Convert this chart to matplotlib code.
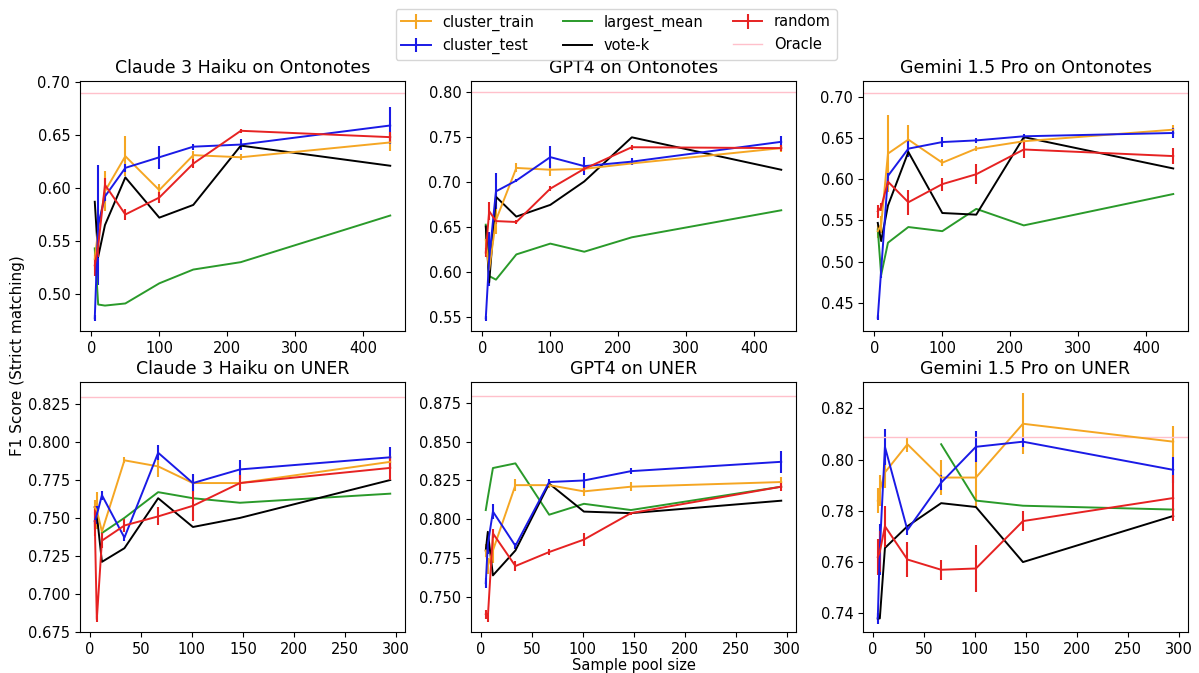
import numpy as np
import matplotlib
matplotlib.use("Agg")
import matplotlib.pyplot as plt
from matplotlib.ticker import MultipleLocator

nan = np.nan

# x positions (sample pool size)
x_onto = [5, 10, 20, 50, 100, 150, 220, 440]
x_uner = [5, 7, 12, 34, 67, 101, 147, 294]

titles = ["Claude 3 Haiku on Ontonotes", "GPT4 on Ontonotes", "Gemini 1.5 Pro on Ontonotes",
          "Claude 3 Haiku on UNER", "GPT4 on UNER", "Gemini 1.5 Pro on UNER"]
oracle = [0.690, 0.800, 0.705, 0.830, 0.879, 0.809]

# ---- Claude 3 Haiku on Ontonotes
haiku_onto_train = [0.533, 0.560, 0.597, 0.630, 0.598, 0.631, 0.629, 0.643]
haiku_onto_train_err = [0.010, 0.020, 0.019, 0.019, 0.006, 0.004, 0.003, 0.008]
haiku_onto_test = [0.477, 0.565, 0.592, 0.619, 0.629, 0.639, 0.641, 0.659]
haiku_onto_test_err = [0.003, 0.057, 0.004, 0.004, 0.011, 0.003, 0.005, 0.017]
haiku_onto_largest = [0.543, 0.490, 0.489, 0.491, 0.510, 0.523, 0.530, 0.574]
haiku_onto_votek = [0.587, 0.535, 0.565, 0.610, 0.572, 0.584, 0.640, 0.621]
haiku_onto_random = [0.527, 0.545, 0.603, 0.575, 0.591, 0.623, 0.654, 0.648]
haiku_onto_random_err = [0.010, 0.010, 0.006, 0.005, 0.005, 0.004, 0.002, 0.005]

# ---- GPT4 on Ontonotes
gpt4_onto_train = [0.636, 0.603, 0.658, 0.716, 0.714, 0.715, 0.721, 0.738]
gpt4_onto_train_err = [0.010, 0.010, 0.015, 0.005, 0.007, 0.003, 0.002, 0.004]
gpt4_onto_test = [0.549, 0.615, 0.690, 0.702, 0.728, 0.718, 0.723, 0.745]
gpt4_onto_test_err = [0.003, 0.030, 0.020, 0.002, 0.012, 0.010, 0.004, 0.007]
gpt4_onto_largest = [0.653, 0.596, 0.592, 0.620, 0.632, 0.623, 0.639, 0.669]
gpt4_onto_votek = [0.651, 0.589, 0.684, 0.662, 0.675, 0.701, 0.750, 0.714]
gpt4_onto_random = [0.622, 0.668, 0.657, 0.656, 0.693, 0.715, 0.739, 0.738]
gpt4_onto_random_err = [0.005, 0.010, 0.003, 0.002, 0.003, 0.002, 0.003, 0.003]

# ---- Gemini 1.5 Pro on Ontonotes
gemini_onto_train = [0.537, 0.545, 0.631, 0.648, 0.620, 0.637, 0.646, 0.660]
gemini_onto_train_err = [0.008, 0.010, 0.047, 0.018, 0.004, 0.003, 0.003, 0.006]
gemini_onto_test = [0.432, 0.490, 0.604, 0.637, 0.645, 0.647, 0.652, 0.656]
gemini_onto_test_err = [0.003, 0.010, 0.003, 0.010, 0.006, 0.003, 0.003, 0.006]
gemini_onto_largest = [0.539, 0.484, 0.523, 0.542, 0.537, 0.564, 0.544, 0.582]
gemini_onto_votek = [0.547, 0.525, 0.568, 0.633, 0.559, 0.557, 0.651, 0.613]
gemini_onto_random = [0.561, 0.566, 0.597, 0.572, 0.594, 0.606, 0.636, 0.628]
gemini_onto_random_err = [0.008, 0.005, 0.004, 0.015, 0.008, 0.012, 0.010, 0.010]

# ---- Claude 3 Haiku on UNER
haiku_uner_train = [0.757, 0.755, 0.741, 0.788, 0.784, 0.773, 0.773, 0.787]
haiku_uner_train_err = [0.005, 0.012, 0.002, 0.002, 0.007, 0.005, 0.002, 0.004]
haiku_uner_test = [0.748, 0.752, 0.765, 0.737, 0.793, 0.773, 0.782, 0.790]
haiku_uner_test_err = [0.006, 0.006, 0.003, 0.002, 0.005, 0.006, 0.006, 0.007]
haiku_uner_largest = [nan, nan, 0.740, 0.750, 0.767, 0.763, 0.760, 0.766]
haiku_uner_votek = [0.757, 0.752, 0.721, 0.730, 0.763, 0.744, 0.750, 0.775]
haiku_uner_random = [0.748, 0.683, 0.735, 0.745, 0.751, 0.758, 0.773, 0.783]
haiku_uner_random_err = [0.010, 0.002, 0.005, 0.004, 0.006, 0.010, 0.005, 0.008]

# ---- GPT4 on UNER
gpt4_uner_train = [0.780, 0.770, 0.780, 0.822, 0.822, 0.818, 0.821, 0.824]
gpt4_uner_train_err = [0.004, 0.005, 0.008, 0.004, 0.002, 0.003, 0.003, 0.003]
gpt4_uner_test = [0.759, 0.784, 0.805, 0.783, 0.824, 0.825, 0.831, 0.837]
gpt4_uner_test_err = [0.003, 0.006, 0.005, 0.002, 0.002, 0.005, 0.002, 0.007]
gpt4_uner_largest = [0.806, 0.814, 0.833, 0.836, 0.803, 0.810, 0.806, 0.821]
gpt4_uner_votek = [0.780, 0.792, 0.764, 0.780, 0.823, 0.805, 0.804, 0.812]
gpt4_uner_random = [0.739, 0.737, 0.791, 0.770, 0.779, 0.787, 0.804, 0.821]
gpt4_uner_random_err = [0.003, 0.003, 0.003, 0.003, 0.002, 0.004, 0.001, 0.003]

# ---- Gemini 1.5 Pro on UNER
gemini_uner_train = [0.784, 0.788, 0.795, 0.806, 0.793, 0.793, 0.814, 0.807]
gemini_uner_train_err = [0.005, 0.006, 0.006, 0.003, 0.007, 0.012, 0.012, 0.006]
gemini_uner_test = [0.738, 0.765, 0.805, 0.7725, 0.791, 0.805, 0.807, 0.796]
gemini_uner_test_err = [0.002, 0.010, 0.007, 0.002, 0.003, 0.006, 0.002, 0.005]
gemini_uner_largest = [nan, nan, nan, nan, 0.806, 0.784, 0.782, 0.7805]
gemini_uner_votek = [0.738, 0.738, 0.7655, 0.774, 0.783, 0.7815, 0.760, 0.778]
gemini_uner_random = [0.762, 0.764, 0.774, 0.761, 0.757, 0.7575, 0.776, 0.785]
gemini_uner_random_err = [0.007, 0.008, 0.008, 0.007, 0.004, 0.009, 0.004, 0.009]

panels = [
    (x_onto, haiku_onto_train, haiku_onto_train_err, haiku_onto_test, haiku_onto_test_err,
     haiku_onto_largest, haiku_onto_votek, haiku_onto_random, haiku_onto_random_err),
    (x_onto, gpt4_onto_train, gpt4_onto_train_err, gpt4_onto_test, gpt4_onto_test_err,
     gpt4_onto_largest, gpt4_onto_votek, gpt4_onto_random, gpt4_onto_random_err),
    (x_onto, gemini_onto_train, gemini_onto_train_err, gemini_onto_test, gemini_onto_test_err,
     gemini_onto_largest, gemini_onto_votek, gemini_onto_random, gemini_onto_random_err),
    (x_uner, haiku_uner_train, haiku_uner_train_err, haiku_uner_test, haiku_uner_test_err,
     haiku_uner_largest, haiku_uner_votek, haiku_uner_random, haiku_uner_random_err),
    (x_uner, gpt4_uner_train, gpt4_uner_train_err, gpt4_uner_test, gpt4_uner_test_err,
     gpt4_uner_largest, gpt4_uner_votek, gpt4_uner_random, gpt4_uner_random_err),
    (x_uner, gemini_uner_train, gemini_uner_train_err, gemini_uner_test, gemini_uner_test_err,
     gemini_uner_largest, gemini_uner_votek, gemini_uner_random, gemini_uner_random_err),
]

ylims = [(0.465, 0.701), (0.535, 0.8125), (0.416, 0.719),
         (0.6747, 0.8397), (0.7276, 0.8883), (0.7327, 0.8303)]
ysteps = [0.05, 0.05, 0.05, 0.025, 0.025, 0.02]

C_TRAIN = "#f5a623"
C_TEST = "#1a1ae6"
C_LARGEST = "#2a9a2a"
C_VOTEK = "black"
C_RANDOM = "#e62222"
C_ORACLE = "pink"

plt.rcParams["font.family"] = ["DejaVu Sans"]
fig = plt.figure(figsize=(11.99, 6.73), dpi=100)

W, H = 1199, 673
lefts = [80, 471, 863]
tops = [81, 382]
aw, ah = 325, 250

axes = []
legend_handles = None
for i, (x, tr, tre, te, tee, lg, vk, rd, rde) in enumerate(panels):
    r, c = divmod(i, 3)
    ax = fig.add_axes([lefts[c] / W, 1 - (tops[r] + ah) / H, aw / W, ah / H])
    axes.append(ax)
    lw = 1.4
    h_tr = ax.errorbar(x, tr, yerr=tre, color=C_TRAIN, lw=lw, elinewidth=1.5, label="cluster_train")
    h_te = ax.errorbar(x, te, yerr=tee, color=C_TEST, lw=lw, elinewidth=1.5, label="cluster_test")
    h_lg, = ax.plot(x, lg, color=C_LARGEST, lw=lw, label="largest_mean")
    h_vk, = ax.plot(x, vk, color=C_VOTEK, lw=lw, label="vote-k")
    h_rd = ax.errorbar(x, rd, yerr=rde, color=C_RANDOM, lw=lw, elinewidth=1.5, label="random")
    h_or = ax.axhline(oracle[i], color=C_ORACLE, lw=1.0, label="Oracle")
    if legend_handles is None:
        legend_handles = [h_tr, h_te, h_lg, h_vk, h_rd, h_or]
    ax.set_title(titles[i], fontsize=12.5)
    ax.set_ylim(*ylims[i])
    ax.yaxis.set_major_locator(MultipleLocator(ysteps[i]))
    if r == 0:
        ax.xaxis.set_major_locator(MultipleLocator(100))
    else:
        ax.xaxis.set_major_locator(MultipleLocator(50))
    ax.tick_params(labelsize=10.5)
    if i == 4:
        ax.set_xlabel("Sample pool size", fontsize=10.5, labelpad=1)

fig.text(18 / W, 1 - 356 / H, "F1 Score (Strict matching)", rotation=90,
         ha="center", va="center", fontsize=11)

labels = ["cluster_train", "cluster_test", "largest_mean", "vote-k", "random", "Oracle"]
fig.legend(legend_handles, labels, loc="upper center", ncol=3,
           bbox_to_anchor=(616 / W, 0.998), fontsize=10.5, frameon=True)

fig.savefig("out.png", dpi=100)
